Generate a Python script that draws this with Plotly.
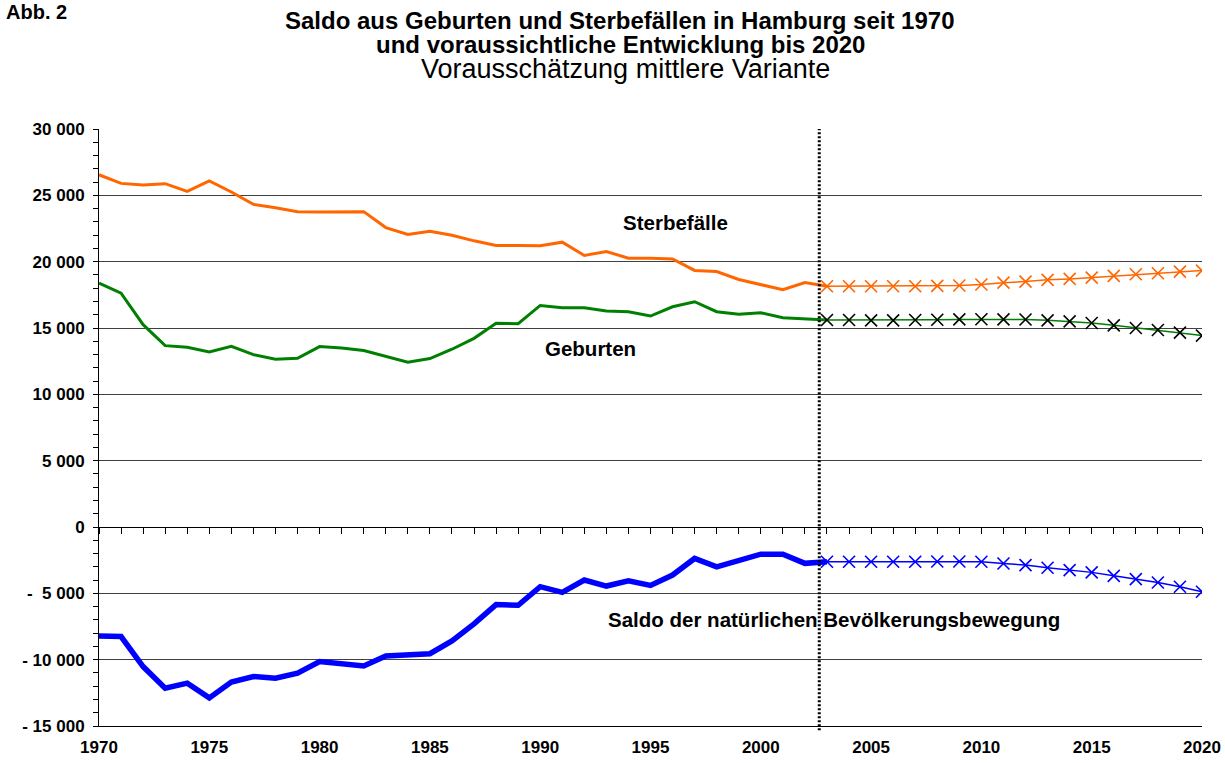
import plotly.graph_objects as go

# ---------------- data ----------------
years_hist = list(range(1970, 2004))
sterbefaelle_hist = [26550, 25900, 25780, 25880, 25300, 26080, 25250, 24320, 24070, 23770,
                     23750, 23770, 23770, 22570, 22050, 22290, 21990, 21570, 21220, 21220,
                     21200, 21470, 20470, 20770, 20260, 20260, 20210, 19340, 19260, 18660,
                     18250, 17880, 18430, 18150]
geburten_hist = [18380, 17630, 15250, 13670, 13550, 13200, 13620, 12990, 12640, 12720,
                 13600, 13500, 13300, 12850, 12420, 12700, 13400, 14220, 15350, 15320,
                 16700, 16520, 16520, 16280, 16230, 15900, 16600, 16980, 16230, 16030,
                 16150, 15780, 15700, 15600]
saldo_hist = [-8210, -8260, -10520, -12150, -11770, -12880, -11690, -11270, -11400, -11020,
              -10140, -10270, -10470, -9720, -9600, -9550, -8590, -7300, -5850, -5900,
              -4500, -4930, -4000, -4450, -4050, -4400, -3620, -2370, -3000, -2550,
              -2050, -2050, -2740, -2620]

years_proj = list(range(2003, 2021))
sterbefaelle_proj = [18150, 18150, 18150, 18150, 18150, 18170, 18200, 18280, 18420, 18500,
                     18630, 18700, 18800, 18930, 19050, 19130, 19250, 19330]
geburten_proj = [15600, 15600, 15580, 15580, 15600, 15620, 15650, 15660, 15650, 15640,
                 15580, 15500, 15380, 15200, 15000, 14850, 14650, 14430]
saldo_proj = [-2620, -2620, -2620, -2620, -2620, -2600, -2600, -2620, -2750, -2870,
              -3070, -3250, -3420, -3680, -3930, -4180, -4500, -4880]

projection_start = 2002.65

y_tickvals = [-15000, -10000, -5000, 0, 5000, 10000, 15000, 20000, 25000, 30000]
y_ticktext = ["-\u00a015\u00a0000", "-\u00a010\u00a0000", "-\u00a0\u00a05\u00a0000", "0",
              "5\u00a0000", "10\u00a0000", "15\u00a0000", "20\u00a0000", "25\u00a0000", "30\u00a0000"]
x_tickvals = [1970, 1975, 1980, 1985, 1990, 1995, 2000, 2005, 2010, 2015, 2020]

title_lines = ["Saldo aus Geburten und Sterbefällen in Hamburg seit 1970",
               "und voraussichtliche Entwicklung bis 2020",
               "Vorausschätzung mittlere Variante"]
label_sterbe = "Sterbefälle"
label_geburten = "Geburten"
label_saldo = "Saldo der natürlichen Bevölkerungsbewegung"

ORANGE = "#FF6600"
GREEN = "#008000"
BLUE = "#0000FF"
FONT = "Liberation Sans, Arial, Helvetica, sans-serif"

fig = go.Figure()

# historical lines
fig.add_trace(go.Scatter(x=years_hist, y=sterbefaelle_hist, mode="lines",
                         line=dict(color=ORANGE, width=3), showlegend=False, hoverinfo="skip"))
fig.add_trace(go.Scatter(x=years_hist, y=geburten_hist, mode="lines",
                         line=dict(color=GREEN, width=3), showlegend=False, hoverinfo="skip"))
fig.add_trace(go.Scatter(x=years_hist, y=saldo_hist, mode="lines",
                         line=dict(color=BLUE, width=5.5), showlegend=False, hoverinfo="skip"))

# projections
mk = dict(symbol="x-thin-open", size=12)
fig.add_trace(go.Scatter(x=years_proj, y=sterbefaelle_proj, mode="lines+markers",
                         line=dict(color=ORANGE, width=1.5),
                         marker=dict(**mk, color=ORANGE, line=dict(color=ORANGE, width=1.6)),
                         showlegend=False, hoverinfo="skip"))
fig.add_trace(go.Scatter(x=years_proj, y=geburten_proj, mode="lines+markers",
                         line=dict(color=GREEN, width=1.5),
                         marker=dict(**mk, color="black", line=dict(color="black", width=1.6)),
                         showlegend=False, hoverinfo="skip"))
fig.add_trace(go.Scatter(x=years_proj, y=saldo_proj, mode="lines+markers",
                         line=dict(color=BLUE, width=1.5),
                         marker=dict(**mk, color=BLUE, line=dict(color=BLUE, width=1.6)),
                         showlegend=False, hoverinfo="skip"))

# invisible trace to carry the tick axis on the zero line
fig.add_trace(go.Scatter(x=[1970, 2020], y=[0, 0], xaxis="x2", mode="none",
                         showlegend=False, hoverinfo="skip"))

# vertical dotted separator
fig.add_shape(type="line", xref="x", yref="paper", x0=projection_start, x1=projection_start,
              y0=-0.007, y1=1, line=dict(color="black", width=3, dash="2px,2px"), layer="above")

# labels
lab_font = dict(family=FONT, size=20.5, color="black", weight="bold")
fig.add_annotation(x=1996.13, y=22940, text=label_sterbe, showarrow=False, font=lab_font)
fig.add_annotation(x=1992.3, y=13420, text=label_geburten, showarrow=False, font=lab_font)
fig.add_annotation(x=2003.3, y=-6955, text=label_saldo, showarrow=False, font=lab_font)

# titles
fig.add_annotation(xref="paper", yref="paper", x=0.4727, y=1, yshift=129 - 20, text=title_lines[0],
                   showarrow=False, yanchor="middle",
                   font=dict(family=FONT, size=24, color="black", weight="bold"))
fig.add_annotation(xref="paper", yref="paper", x=0.4727, y=1, yshift=129 - 44, text=title_lines[1],
                   showarrow=False, yanchor="middle",
                   font=dict(family=FONT, size=24, color="black", weight="bold"))
fig.add_annotation(xref="paper", yref="paper", x=0.4727, xshift=5, y=1, yshift=129 - 69,
                   text=title_lines[2], showarrow=False, yanchor="middle",
                   font=dict(family=FONT, size=27, color="black"))
fig.add_annotation(xref="paper", yref="paper", x=0, xshift=-95, y=1, yshift=129 + 1,
                   text="Abb. 2", showarrow=False, xanchor="left", yanchor="top",
                   font=dict(family=FONT, size=20, color="black", weight="bold"))

fig.update_layout(
    width=1225, height=763,
    margin=dict(l=99, r=23, t=129, b=37, autoexpand=False),
    paper_bgcolor="white", plot_bgcolor="white",
    font=dict(family=FONT, color="black"),
    xaxis=dict(range=[1970, 2020], tickvals=x_tickvals, showgrid=False, zeroline=False,
               showline=True, linecolor="black", linewidth=1, ticks="", automargin=False,
               tickfont=dict(family=FONT, size=17, color="black", weight="bold"),
               ticklabelstandoff=6),
    xaxis2=dict(range=[1970, 2020], overlaying="x", anchor="free", position=1 / 3, side="bottom",
                tickmode="linear", tick0=1970, dtick=1, ticks="outside", ticklen=6,
                tickcolor="black", tickwidth=1, showticklabels=False, showgrid=False,
                zeroline=False, showline=False, automargin=False),
    yaxis=dict(range=[-15000, 30000], tickvals=y_tickvals, ticktext=y_ticktext,
               showgrid=True, gridcolor="#404040", gridwidth=1, automargin=False,
               zeroline=True, zerolinecolor="black", zerolinewidth=1,
               showline=True, linecolor="black", linewidth=1,
               ticks="outside", ticklen=5, tickcolor="black",
               minor=dict(tickvals=[v for v in range(-15000, 30001, 1000)], ticks="outside",
                          ticklen=5, tickcolor="black", showgrid=False),
               tickfont=dict(family=FONT, size=17, color="black", weight="bold"),
               ticklabelstandoff=5),
)

fig.write_html("out.html", config={"displayModeBar": False},
               post_script="document.body.style.margin='0';document.body.style.padding='0';"
                           "document.body.style.overflow='hidden';")
